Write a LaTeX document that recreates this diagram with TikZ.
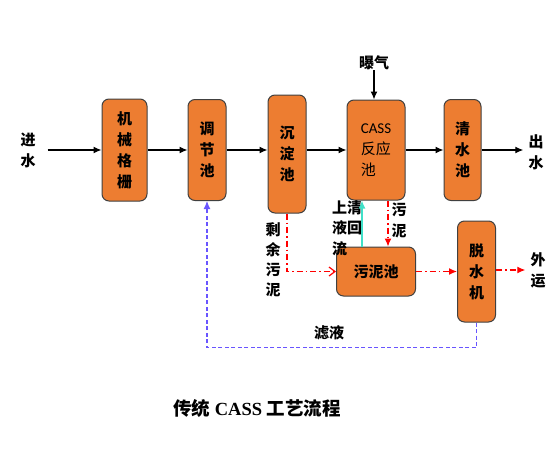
\documentclass[tikz,border=0pt]{standalone}
\usepackage{fontspec}
\setmainfont{Liberation Serif}
\newfontfamily\cjk{Noto Sans CJK SC}
\newfontfamily\lat{Carlito}
\usetikzlibrary{arrows.meta,positioning}
\definecolor{boxfill}{RGB}{237,125,49}
\definecolor{boxline}{RGB}{64,64,64}
\definecolor{filtrate}{RGB}{105,85,255}
\definecolor{reflux}{RGB}{64,224,200}

\begin{document}
\begin{tikzpicture}[
    x=1pt, y=-1pt,
    node distance=40pt,
    box/.style={draw=boxline, fill=boxfill, line width=1pt, rounded corners=7pt, align=center, inner sep=0pt, font=\cjk\bfseries\fontsize{15}{21}\selectfont},
    lbl/.style={align=center, inner sep=0pt, font=\cjk\bfseries\fontsize{15}{21}\selectfont},
    arrow/.style={-{Latex[length=8pt,width=7pt]}, line width=1.2pt},
    sludgeline/.style={-{Latex[length=8pt,width=7pt]}, red, line width=1.2pt, dash pattern=on 6pt off 3pt on 1.5pt off 3pt},
    filtrateline/.style={-{Latex[length=8pt,width=7pt]}, filtrate, line width=1.1pt, dash pattern=on 4pt off 2.5pt}
]
\useasboundingbox (0,0) rectangle (554,450);
% main line
\node[box, minimum width=45pt, minimum height=102pt] (grille) at (124.5,150) {机\\械\\格\\栅};
\node[box, minimum width=38pt, minimum height=101pt, right=40pt of grille] (equal) {调\\节\\池};
\node[box, minimum width=38pt, minimum height=118pt, right=41pt of equal, yshift=-4pt] (settle) {沉\\淀\\池};
\node[box, minimum width=58pt, minimum height=100pt, right=40pt of settle, yshift=4pt, align=left, font=\cjk\fontsize{15}{21}\selectfont] (cass) {{\lat CASS}\\反应\\池};
\node[box, minimum width=37pt, minimum height=101pt, right=38pt of cass] (clear) {清\\水\\池};
% sludge line
\node[box, minimum width=79pt, minimum height=49pt, below=46pt of cass] (sludge) {污泥池};
\node[box, minimum width=38pt, minimum height=101pt, right=41pt of sludge] (dewater) {脱\\水\\机};
% texts
\node[lbl] (inlet) at (28,150) {进\\水};
\node[lbl] (outlet) at (536,152) {出\\水};
\node[lbl] (air) at (374,63) {曝气};
\node[lbl] (haul) at (538,270) {外\\运};
\node[lbl, font=\cjk\bfseries\fontsize{15}{20}\selectfont] (excess) at (273,260) {剩\\余\\污\\泥};
\node[lbl, align=left, font=\cjk\bfseries\fontsize{15}{20.5}\selectfont] (super) at (347,228) {上清\\液回\\流};
\node[lbl] (sludgelbl) at (399,220) {污\\泥};
\node[lbl] (filtlbl) at (329,333) {滤液};
\node[font=\bfseries\fontsize{18.5}{20}\selectfont] (title) at (257,408) {{\cjk 传统} CASS {\cjk 工艺流程}};

\draw[arrow, shorten <=12pt] (inlet) -- (grille);
\draw[arrow] (grille) -- (equal);
\draw[arrow] (equal) -- (equal -| settle.west);
\draw[arrow] (cass -| settle.east) -- (cass);
\draw[arrow] (cass) -- (clear);
\draw[arrow, shorten >=5pt] (clear) -- (clear -| outlet.west);
\draw[arrow] (air) -- (air |- cass.north);
\draw[sludgeline, -{Straight Barb[length=6pt,width=9pt]}] (settle) |- (sludge);
\draw[sludgeline] ([xshift=12pt]cass.south) -- ([xshift=12pt]cass.south |- sludge.north);
\draw[-{Latex[length=8pt,width=7pt]}, reflux, line width=1.5pt] ([xshift=-14pt]sludge.north) -- ([xshift=-14pt]sludge.north |- cass.south);
\draw[sludgeline] (sludge) -- (dewater);
\draw[sludgeline, shorten >=5pt] (dewater.east |- haul) -- (haul);
\draw[filtrateline] (dewater.south) -- ++(0,25) -| (equal.south);
\end{tikzpicture}
\end{document}
